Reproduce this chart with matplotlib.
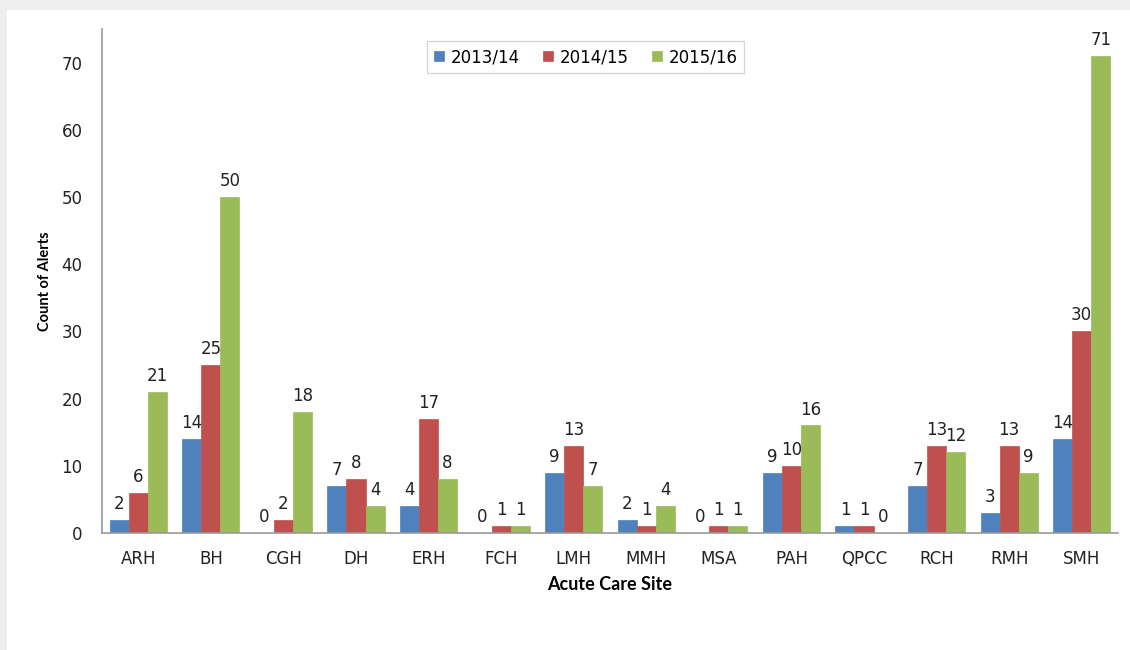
import matplotlib.pyplot as plt
import numpy as np
from matplotlib.patches import Rectangle

sites = ["ARH", "BH", "CGH", "DH", "ERH", "FCH", "LMH", "MMH", "MSA",
         "PAH", "QPCC", "RCH", "RMH", "SMH"]
years = ["2013/14", "2014/15", "2015/16"]
alerts_1314 = [2, 14, 0, 7, 4, 0, 9, 2, 0, 9, 1, 7, 3, 14]
alerts_1415 = [6, 25, 2, 8, 17, 1, 13, 1, 1, 10, 1, 13, 13, 30]
alerts_1516 = [21, 50, 18, 4, 8, 1, 7, 4, 1, 16, 0, 12, 9, 71]
colors = ["#4F81BD", "#C0504D", "#9BBB59"]

plt.rcParams["font.family"] = ["DejaVu Sans"]

fig = plt.figure(figsize=(11.3, 6.5), dpi=100)
fig.patch.set_facecolor("white")

# grey frame strips along the top and left
fig.patches.append(Rectangle((0, 1 - 10 / 650), 1, 10 / 650, transform=fig.transFigure,
                             facecolor="#eeeeee", edgecolor="none", zorder=0))
fig.patches.append(Rectangle((0, 0), 7 / 1130, 1, transform=fig.transFigure,
                             facecolor="#eeeeee", edgecolor="none", zorder=0))

ax = fig.add_axes([102 / 1130, 1 - 533 / 650, 1016 / 1130, 504 / 650])

x = np.arange(len(sites))
w = 0.262
series = [alerts_1314, alerts_1415, alerts_1516]
for i, (vals, col, lab) in enumerate(zip(series, colors, years)):
    pos = x + (i - 1) * w
    ax.bar(pos, vals, w, color=col, label=lab, edgecolor=col, linewidth=0.5, zorder=2)
    for xp, v in zip(pos, vals):
        ax.annotate(str(v), (xp, v), xytext=(0, 5), textcoords="offset points",
                    ha="center", va="bottom", fontsize=12, color="#222222")

ax.set_xlim(-0.5, len(sites) - 0.5)
ax.set_ylim(0, 75)
ax.set_yticks(range(0, 80, 10))
ax.set_xticks(x)
ax.set_xticklabels(sites)
ax.tick_params(axis="both", length=0, labelsize=12, colors="#222222")
ax.tick_params(axis="y", pad=14)
ax.tick_params(axis="x", pad=12)

for s in ["top", "right"]:
    ax.spines[s].set_visible(False)
for s in ["left", "bottom"]:
    ax.spines[s].set_color("#999999")
    ax.spines[s].set_linewidth(1.2)

ax.set_ylabel("Count of Alerts", fontsize=10.5, fontweight="bold", family="Lato")
ax.set_xlabel("Acute Care Site", fontsize=13, fontweight="bold", family="Lato")
ax.yaxis.set_label_coords(-0.049, 0.5)
ax.xaxis.set_label_coords(0.5, -0.085)

leg = ax.legend(loc="upper center", bbox_to_anchor=(0.476, 0.992), ncol=3,
                fontsize=12, handlelength=0.6, handleheight=0.6, handletextpad=0.4,
                columnspacing=1.4, fancybox=False, borderpad=0.4)
leg.get_frame().set_edgecolor("#cccccc")
leg.get_frame().set_linewidth(1)

fig.savefig("out.png", dpi=100, facecolor=fig.get_facecolor())
